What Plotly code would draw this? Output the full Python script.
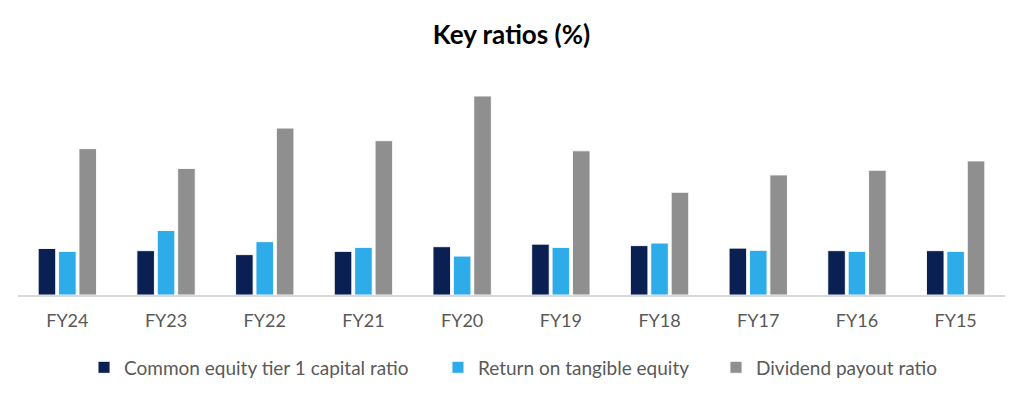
import plotly.graph_objects as go

categories = ["FY24", "FY23", "FY22", "FY21", "FY20", "FY19", "FY18", "FY17", "FY16", "FY15"]
cet1 = [12.9, 12.3, 11.2, 12.1, 13.4, 14.1, 13.7, 13.0, 12.3, 12.3]
rote = [12.1, 17.9, 14.8, 13.2, 10.8, 13.2, 14.4, 12.4, 12.1, 12.1]
payout = [40.6, 35.1, 46.3, 42.8, 55.2, 40.0, 28.5, 33.3, 34.6, 37.2]

series_names = ["Common equity tier 1 capital ratio", "Return on tangible equity", "Dividend payout ratio"]
colors = ["#0b2052", "#2eabe9", "#8f8f8f"]
legend_ids = ["legend", "legend2", "legend3"]
legend_x = [0.0669, 0.4255, 0.7072]

fig = go.Figure()
for name, vals, col, lg in zip(series_names, [cet1, rote, payout], colors, legend_ids):
    fig.add_trace(go.Bar(
        x=categories, y=vals, name=name, legend=lg,
        marker=dict(color=col, line=dict(color="rgba(255,255,255,0.9)", width=1)),
    ))

legend_style = dict(orientation="h", xanchor="left", y=-0.337, yanchor="middle",
                    font=dict(size=19, color="#595959"), bgcolor="rgba(0,0,0,0)")

# page body has an 8px default margin, so figure coordinates are offset by -8px
fig.update_layout(
    width=1022, height=393,
    paper_bgcolor="white", plot_bgcolor="white",
    margin=dict(l=10, r=25, t=72, b=106),
    barmode="group", bargap=0.38, bargroupgap=0.14,
    font=dict(family="Lato, sans-serif", color="#595959", size=18),
    title=dict(text="<b>Key ratios (%)</b>", x=0.5, xref="paper", xanchor="center", y=0.931, yanchor="middle",
               font=dict(family="Lato, sans-serif", size=26, color="#000000")),
    showlegend=True,
    legend=dict(x=legend_x[0], **legend_style),
    legend2=dict(x=legend_x[1], **legend_style),
    legend3=dict(x=legend_x[2], **legend_style),
)
fig.update_xaxes(showline=True, linecolor="#d9d9d9", linewidth=1.5, ticks="outside",
                 ticklen=9, tickcolor="rgba(0,0,0,0)", tickfont=dict(size=18, color="#595959"),
                 showgrid=False)
fig.update_yaxes(range=[0, 59.64], showticklabels=False, showgrid=False, zeroline=False, showline=False)

fig.write_html("out.html")
